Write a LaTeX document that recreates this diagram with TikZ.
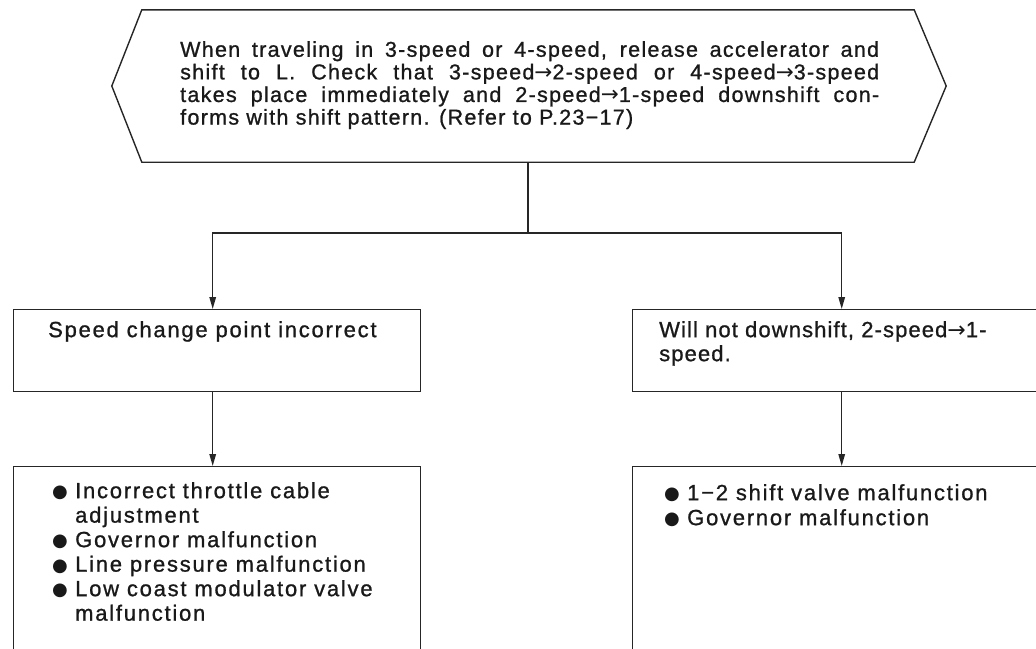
\documentclass[tikz,border=0pt]{standalone}
\usepackage{fontspec}
\setmainfont{Liberation Sans}[LetterSpace=6,FakeBold=1]
\newfontfamily\symfont{DejaVu Sans}
\usetikzlibrary{arrows.meta}
\tikzset{
  ln/.style={line width=1.4pt, draw=black!85},
  arr/.style={ln, -{Triangle[length=12pt,width=6.5pt]}},
  box/.style={ln, rectangle, minimum width=407pt, inner sep=0pt},
  txt/.style={inner sep=0pt, align=left, anchor=north west, text=black!90},
  wide/.style={font=\fontsize{22}{#1}\selectfont\addfontfeature{LetterSpace=8}},
}
\newcommand{\blt}{\makebox[23pt][l]{\raisebox{0.5pt}{\symfont\fontsize{18}{18}\selectfont ●}}}
\newcommand{\jline}[1]{\makebox[699pt][s]{#1}}
\newcommand{\ra}{{\symfont →}}
\begin{document}
\begin{tikzpicture}[x=1pt,y=-1pt]
\useasboundingbox (0,0) rectangle (1036,648);
\clip (0,0) rectangle (1036,648);
% top hexagon
\node[minimum width=772pt, minimum height=152pt, inner sep=0pt] (top) at (528,86) {};
\draw[ln] (top.north west) -- (top.north east) -- ([xshift=32pt]top.east)
  -- (top.south east) -- (top.south west) -- ([xshift=-30pt]top.west) -- cycle;
\node[txt, font=\fontsize{21.5}{22.6}\selectfont] (toptext) at (180,41)
  {\jline{When traveling in 3-speed or 4-speed, release accelerator and}\\
   \jline{shift to L. Check that 3-speed\ra2-speed or 4-speed\ra3-speed}\\
   \jline{takes place immediately and 2-speed\ra1-speed downshift con-}\\
   forms with shift pattern. (Refer to P.23−17)};
% boxes
\node[box, minimum height=82pt, anchor=north west] (b1) at (13,309) {};
\node[box, minimum height=82pt, anchor=north west] (b2) at (632,309) {};
\node[box, minimum height=200pt, anchor=north west] (c1) at (13,466) {};
\node[box, minimum height=200pt, anchor=north west] (c2) at (632,466) {};
\node[txt, wide=24] (b1t) at (48,321) {Speed change point incorrect};
\node[txt, font=\fontsize{22}{24}\selectfont\addfontfeature{LetterSpace=5}] (b2t) at (659,321) {Will not downshift, 2-speed\ra1-\\speed.};
\node[txt, wide=24.5] (c1t) at (52,482)
  {\blt Incorrect throttle cable\\
   \hspace*{23pt}adjustment\\
   \blt Governor malfunction\\
   \blt Line pressure malfunction\\
   \blt Low coast modulator valve\\
   \hspace*{23pt}malfunction};
\node[txt, wide=25] (c2t) at (664,484)
  {\blt 1−2 shift valve malfunction\\
   \blt Governor malfunction};
% connectors
\coordinate (split) at (528,233);
\draw[ln] (top.south) -- (split);
\draw[arr] (split) -| ([xshift=-4.5pt]b1.north);
\draw[arr] (split) -| ([xshift=5.5pt]b2.north);
\draw[arr] ([xshift=-4.5pt]b1.south) -- ([xshift=-4.5pt]c1.north);
\draw[arr] ([xshift=5.5pt]b2.south) -- ([xshift=5.5pt]c2.north);
\end{tikzpicture}
\end{document}
